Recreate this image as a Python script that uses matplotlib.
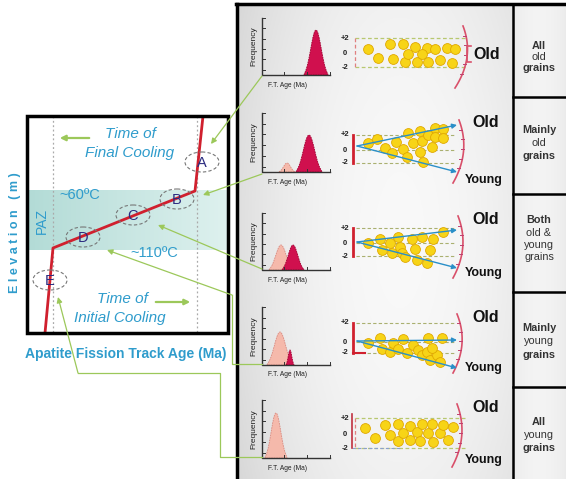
import numpy as np
import matplotlib
matplotlib.use("Agg")
import matplotlib.pyplot as plt
from matplotlib.patches import Ellipse, Polygon, Rectangle

plt.rcParams['font.family'] = ['Liberation Sans', 'DejaVu Sans']

# ---------------- data ----------------
# left panel: age-elevation profile vertices
profile_x = [45, 53, 195, 203]
profile_y = [333, 248, 191, 116]
point_labels = ["A", "B", "C", "D", "E"]
point_x = [202, 177, 133, 83, 50]
point_y = [162, 199, 215, 237, 280]

# right panels: histogram peaks (old = crimson, young = pink)
hist_base_y = [75, 172, 270, 365, 458]
hist_top_y = [18, 113, 213, 307, 400]
old_peak_x = [316, 309, 293, 290, None]
old_peak_h = [45, 37, 25, 15, 0]
old_peak_w = [12, 13, 11, 4, 0]
young_peak_x = [None, 287, 281, 280, 276]
young_peak_h = [0, 9, 25, 33, 45]
young_peak_w = [0, 8, 12, 13, 11]

# radial plot levels (+2, 0, -2)
plus2_y = [38, 135, 228, 323, 418]
zero_y = [53, 150, 243, 342, 435]
minus2_y = [67, 163, 256, 353, 448]

grains_x = [
    [368, 390, 403, 415, 427, 435, 447, 455, 378, 393, 405, 408, 417, 422, 428, 440, 452],
    [368, 377, 385, 396, 392, 403, 408, 413, 420, 422, 428, 435, 435, 443, 420, 407, 423, 432, 443],
    [368, 380, 382, 390, 392, 398, 400, 402, 412, 415, 422, 433, 430, 443, 405, 417, 427],
    [368, 380, 382, 390, 393, 398, 403, 407, 413, 418, 422, 427, 428, 430, 437, 440, 442, 432],
    [365, 375, 385, 390, 398, 398, 403, 410, 410, 417, 420, 422, 428, 432, 433, 440, 443, 448, 453],
]
grains_y = [
    [49, 44, 44, 47, 48, 49, 48, 49, 58, 59, 62, 54, 62, 54, 62, 60, 63],
    [143, 139, 148, 142, 153, 149, 133, 143, 131, 141, 135, 128, 137, 129, 152, 157, 162, 147, 138],
    [243, 239, 250, 243, 253, 237, 247, 253, 239, 249, 237, 239, 250, 232, 257, 260, 263],
    [343, 338, 349, 352, 343, 349, 339, 353, 345, 350, 355, 352, 338, 360, 355, 362, 338, 348],
    [428, 438, 425, 435, 424, 441, 433, 426, 440, 432, 441, 424, 433, 424, 442, 433, 425, 440, 427],
]

# fan arrows (old / young trends) for panels 2-4
fan_origin_y = [None, 146, 242, 341, None]
fan_old_end_y = [None, 125, 230, 340, None]
fan_young_end_y = [None, 172, 268, 368, None]

old_text_y = [53, 122, 220, 317, 408]
young_text_y = [None, 180, 273, 368, 460]
arc_top = [(463, 26), (459, 120), (458, 216), (457, 314), (457, 404)]
arc_bot = [(455, 88), (453, 183), (453, 278), (453, 373), (452, 467)]

row_labels = [["All", "old", "grains"],
              ["Mainly", "old", "grains"],
              ["Both", "old &", "young", "grains"],
              ["Mainly", "young", "grains"],
              ["All", "young", "grains"]]
row_label_y = [[46, 57, 68], [130, 143, 156], [220, 233, 245, 257],
               [328, 341, 355], [422, 435, 448]]
row_dividers = [97, 194, 292, 387]

# ---------------- figure ----------------
fig = plt.figure(figsize=(5.66, 4.79), dpi=100)
ax = fig.add_axes([0, 0, 1, 1])

BLUE = '#2f9ccc'
GREEN = '#9cc85a'
RED = '#d0202e'
CRIMSON = '#d0104e'
PINK = '#f5b9ab'

# right panel background
xx, yy = np.meshgrid(np.linspace(237, 566, 200), np.linspace(4, 479, 200))
bg = 0.975 - 0.11 * ((xx - 400) / 170.0) ** 2 - 0.03 * ((yy - 240) / 240.0) ** 2
bg = np.clip(bg, 0.84, 0.975)
ax.imshow(np.dstack([bg, bg, bg]), extent=[237, 566, 479, 4], zorder=0, aspect='auto')
lx, ly = np.meshgrid(np.linspace(-1, 1, 50), np.linspace(-1, 1, 50))
lab = 0.955 - 0.03 * lx ** 2
ax.imshow(np.dstack([lab, lab, lab]), extent=[513, 566, 479, 4], zorder=0.5, aspect='auto')
ax.plot([237, 237], [479, 4], color='black', lw=2.5, zorder=5)
ax.plot([236, 566], [4, 4], color='black', lw=2.5, zorder=5)
ax.plot([513, 513], [4, 479], color='black', lw=1.8, zorder=5)
for d in row_dividers:
    ax.plot([513, 566], [d, d], color='black', lw=1.8, zorder=5)

# ---------------- left panel ----------------
band = np.linspace(0, 1, 100)[None, :]
c0 = np.array([0.70, 0.86, 0.84])
c1 = np.array([0.87, 0.945, 0.935])
grad = (c0[None, None, :] * (1 - band[..., None]) + c1[None, None, :] * band[..., None])
grad = np.repeat(grad, 10, axis=0)
ax.imshow(grad, extent=[27, 228, 250, 191], zorder=1, aspect='auto')

ax.add_patch(Rectangle((27, 116), 201, 217, fill=False, ec='black', lw=2.5, zorder=6))
for vx in [53, 197]:
    ax.plot([vx, vx], [116, 333], color='#aaaaaa', lw=0.9, ls=(0, (1.5, 2)), zorder=2)
ax.plot(profile_x, profile_y, color=RED, lw=2, zorder=4, solid_capstyle='butt')

for lbl, px, py in zip(point_labels, point_x, point_y):
    ax.add_patch(Ellipse((px, py), 34, 20, fill=False, ec='#777777', lw=0.8,
                         ls=(0, (3, 2)), zorder=5))
    ax.text(px, py + 1, lbl, ha='center', va='center', fontsize=10.5, color='#2b2b80', zorder=6)

ax.text(130, 134, "Time of", ha='center', va='center', fontsize=11, style='italic', color=BLUE)
ax.text(130, 153, "Final Cooling", ha='center', va='center', fontsize=11, style='italic', color=BLUE)
ax.annotate('', xy=(57, 138), xytext=(92, 138),
            arrowprops=dict(arrowstyle='-|>', color=GREEN, lw=1.6, mutation_scale=8))
ax.text(80, 195, "~60ºC", ha='center', va='center', fontsize=10.5, color=BLUE, zorder=6)
ax.text(42, 221, "PAZ", ha='center', va='center', fontsize=10, color=BLUE, rotation=90, zorder=6)
ax.text(154, 253, "~110ºC", ha='center', va='center', fontsize=10.5, color=BLUE, zorder=6)
ax.text(122, 299, "Time of", ha='center', va='center', fontsize=11, style='italic', color=BLUE)
ax.text(120, 318, "Initial Cooling", ha='center', va='center', fontsize=11, style='italic', color=BLUE)
ax.annotate('', xy=(193, 302), xytext=(153, 302),
            arrowprops=dict(arrowstyle='-|>', color=GREEN, lw=1.6, mutation_scale=8))
ax.text(15, 233, "E l e v a t i o n   ( m )", ha='center', va='center', fontsize=9,
        fontweight='bold', color=BLUE, rotation=90)
ax.text(126, 354, "Apatite Fission Track Age (Ma)", ha='center', va='center', fontsize=10,
        fontweight='bold', color=BLUE, zorder=7)

def arrow(tip, tail):
    ax.annotate('', xy=tip, xytext=tail,
                arrowprops=dict(arrowstyle='-|>', color=GREEN, lw=0.9, mutation_scale=8,
                                shrinkA=0, shrinkB=0), zorder=8)

arrow((211, 144), (262, 76))
arrow((203, 195), (262, 174))
arrow((158, 225), (262, 269))
ax.plot([262, 232, 232], [364, 364, 295], color=GREEN, lw=0.9, zorder=8)
arrow((107, 250), (232, 295))
ax.plot([262, 220, 220, 78], [457, 457, 373, 373], color=GREEN, lw=0.9, zorder=8)
arrow((58, 297), (78, 373))

# ---------------- right panels ----------------
def bump(xc, yb, h, hw, color, ec):
    t = np.linspace(-1, 1, 80)
    xs = xc + hw * t
    ys = yb - h * np.exp(-(t * 1.5) ** 2) * np.sqrt(1 - t ** 2)
    ax.add_patch(Polygon(np.column_stack([xs, ys]), closed=True, fc=color, ec=ec,
                         lw=0.6, ls=(0, (2, 1)), zorder=3))

def quad(p0, p1, p2, **kw):
    t = np.linspace(0, 1, 40)[:, None]
    pts = (1 - t) ** 2 * np.array(p0) + 2 * (1 - t) * t * np.array(p1) + t ** 2 * np.array(p2)
    ax.plot(pts[:, 0], pts[:, 1], **kw)
    return pts

for i in range(5):
    yb, yt = hist_base_y[i], hist_top_y[i]
    ax.plot([262, 262, 330], [yt, yb, yb], color='#333333', lw=1, zorder=4)
    for k in range(6):
        ty = yt + (yb - yt) * k / 5.5
        ax.plot([262, 265], [ty, ty], color='#333333', lw=0.7, zorder=4)
    for tx in [284, 307, 330]:
        ax.plot([tx, tx], [yb, yb - 3], color='#333333', lw=0.7, zorder=4)
    if young_peak_x[i] is not None:
        bump(young_peak_x[i], yb, young_peak_h[i], young_peak_w[i], PINK, '#d98a80')
    if old_peak_x[i] is not None:
        bump(old_peak_x[i], yb, old_peak_h[i], old_peak_w[i], CRIMSON, '#a00030')
    ax.text(254, (yt + yb) / 2, "Frequency", rotation=90, ha='center', va='center',
            fontsize=6, color='#222222')
    ax.text(288, yb + 10, "F.T. Age (Ma)", ha='center', va='center', fontsize=4.8, color='#222222')

    p2, z0, m2 = plus2_y[i], zero_y[i], minus2_y[i]
    for lvl, s in zip([p2, z0, m2], ["+2", "0", "-2"]):
        ax.text(345, lvl, s, ha='center', va='center', fontsize=5.5, fontweight='bold', color='#222222')
    if i == 0 or i == 4:
        ax.plot([355, 465], [p2, p2], color='#b8c870', lw=0.9, ls=(0, (3, 2)), zorder=2)
        ax.plot([355, 465], [m2, m2], color='#b8c870', lw=0.9, ls=(0, (3, 2)), zorder=2)
        ax.plot([355, 355], [p2, m2], color='#e08080', lw=0.9, ls=(0, (3, 2)), zorder=2)
        if i == 4:
            ax.plot([352, 352], [p2 - 4, m2], color='#c03040', lw=1.2, zorder=3)
            ax.plot([352, 400], [m2, m2], color='#8aa0d0', lw=0.8, ls=(0, (3, 2)), zorder=2)
    else:
        for lvl in [p2, z0, m2]:
            ax.plot([356, 455], [lvl, lvl], color='#aab070', lw=0.8, ls=(0, (3, 2)), zorder=2)
        ax.plot([353, 353], [p2, m2], color=RED, lw=2, zorder=3)
        if i == 3:
            ax.plot([353, 365], [m2, m2], color=RED, lw=1.5, zorder=3)
        oy = fan_origin_y[i]
        for ey in [fan_old_end_y[i], fan_young_end_y[i]]:
            ax.annotate('', xy=(457, ey), xytext=(357, oy),
                        arrowprops=dict(arrowstyle='-|>', color='#2a8fc8', lw=1.0,
                                        mutation_scale=7, shrinkA=0, shrinkB=0), zorder=6)

    ax.scatter(grains_x[i], grains_y[i], s=50, c='#f7d417', edgecolors='#e0a800',
               linewidths=0.6, zorder=5)

    top, bot = arc_top[i], arc_bot[i]
    mid = (max(top[0], bot[0]) + 12, (top[1] + bot[1]) / 2)
    pts = quad(top, mid, bot, color='#d9506a', lw=1.2, zorder=4)
    for k in range(6, 36, 6):
        ax.plot([pts[k, 0] - 3, pts[k, 0]], [pts[k, 1], pts[k, 1]], color='#c04070', lw=0.7, zorder=4)
    if i == 0:
        ax.plot([471, 467, 467, 471], [46, 46, 62, 62], color='#d9506a', lw=1.2, zorder=4)
        ax.text(473, 54, "Old", ha='left', va='center', fontsize=11.5, fontweight='bold', color='#111111')
    else:
        ax.text(472, old_text_y[i], "Old", ha='left', va='center', fontsize=11.5,
                fontweight='bold', color='#111111')
        ax.text(465, young_text_y[i], "Young", ha='left', va='center', fontsize=9,
                fontweight='bold', color='#111111')

    for j, (s, lyy) in enumerate(zip(row_labels[i], row_label_y[i])):
        bold = s in ("All", "Mainly", "Both", "grains") and not (i == 2 and s == "grains")
        ax.text(539, lyy, s, ha='center', va='center', fontsize=7.8,
                fontweight='bold' if bold else 'normal', color='#333333')

ax.set_xlim(0, 566)
ax.set_ylim(479, 0)
ax.axis('off')
fig.savefig("out.png", dpi=100)
